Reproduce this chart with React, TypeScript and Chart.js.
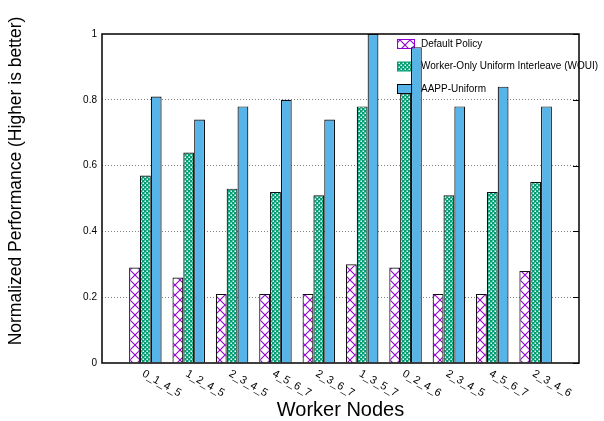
import React, { useEffect, useRef } from 'react';
import { Chart, registerables } from 'chart.js';

Chart.register(...registerables);

const categories = ['0_1_4_5', '1_2_4_5', '2_3_4_5', '4_5_6_7', '2_3_6_7', '1_3_5_7', '0_2_4_6', '2_3_4_5', '4_5_6_7', '2_3_4_6'];
const seriesNames = ['Default Policy', 'Worker-Only Uniform Interleave (WOUI)', 'AAPP-Uniform'];
const defaultPolicy = [0.29, 0.26, 0.21, 0.21, 0.21, 0.30, 0.29, 0.21, 0.21, 0.28];
const woui = [0.57, 0.64, 0.53, 0.52, 0.51, 0.78, 0.82, 0.51, 0.52, 0.55];
const aappUniform = [0.81, 0.74, 0.78, 0.80, 0.74, 1.0, 0.96, 0.78, 0.84, 0.78];
const yTicks = [0, 0.2, 0.4, 0.6, 0.8, 1];
const yTickLabels = ['0', '0.2', '0.4', '0.6', '0.8', '1'];
const xTitle = 'Worker Nodes';
const yTitle = 'Normalized Performance (Higher is better)';

const FONT = "'Liberation Sans', Arial, sans-serif";
const PURPLE = '#9400d3';
const GREEN = '#009e73';
const BLUE = '#56b4e9';

function makeCrossPattern(ctx: CanvasRenderingContext2D) {
  const c = document.createElement('canvas');
  c.width = 10; c.height = 10;
  const g = c.getContext('2d')!;
  g.fillStyle = '#ffffff';
  g.fillRect(0, 0, 10, 10);
  g.strokeStyle = PURPLE;
  g.lineWidth = 1.1;
  g.beginPath();
  g.moveTo(0, 0); g.lineTo(10, 10);
  g.moveTo(10, 0); g.lineTo(0, 10);
  g.stroke();
  return ctx.createPattern(c, 'repeat')!;
}

function makeCheckPattern(ctx: CanvasRenderingContext2D) {
  const c = document.createElement('canvas');
  c.width = 4; c.height = 4;
  const g = c.getContext('2d')!;
  g.fillStyle = GREEN;
  g.fillRect(0, 0, 4, 4);
  g.fillStyle = '#ffffff';
  g.fillRect(0.5, 0.5, 1.5, 1.5);
  g.fillRect(2.5, 2.5, 1.5, 1.5);
  return ctx.createPattern(c, 'repeat')!;
}

export default function App() {
  const ref = useRef<HTMLCanvasElement | null>(null);

  useEffect(() => {
    const canvas = ref.current!;
    const ctx = canvas.getContext('2d')!;
    const crossPat = makeCrossPattern(ctx);
    const checkPat = makeCheckPattern(ctx);
    const fills = [crossPat, checkPat, BLUE];
    const swatchStroke = [PURPLE, GREEN, '#000000'];

    const toPts = (arr: number[]) => arr.map((v, i) => ({ x: i, y: v }));

    const decor = {
      id: 'decor',
      beforeDatasetsDraw(chart: any) {
        const c = chart.ctx;
        c.save();
        const rows = [44, 66.5, 89];
        seriesNames.forEach((name, i) => {
          const y = rows[i];
          c.fillStyle = fills[i];
          c.fillRect(397, y - 4.5, 18, 9);
          c.strokeStyle = swatchStroke[i];
          c.lineWidth = 1;
          c.strokeRect(397.5, y - 4.5, 17, 9);
          c.fillStyle = '#000';
          c.font = `10px ${FONT}`;
          c.textAlign = 'left';
          c.textBaseline = 'middle';
          c.fillText(name, 421, y);
        });
        c.restore();
      },
      afterDraw(chart: any) {
        const c = chart.ctx;
        const a = chart.chartArea;
        const xs = chart.scales.x;
        const ys = chart.scales.y;
        c.save();
        c.strokeStyle = '#000';
        c.lineWidth = 1.5;
        c.strokeRect(a.left, a.top, a.right - a.left, a.bottom - a.top);
        c.lineWidth = 1;
        yTicks.forEach((v) => {
          const py = Math.round(ys.getPixelForValue(v)) + 0.5;
          c.beginPath();
          c.moveTo(a.right - 6, py);
          c.lineTo(a.right, py);
          c.stroke();
        });
        c.fillStyle = '#000';
        c.font = `11px ${FONT}`;
        c.textAlign = 'left';
        c.textBaseline = 'top';
        categories.forEach((lab, i) => {
          const cx = xs.getPixelForValue(i);
          c.save();
          c.translate(cx + 0.5, 368);
          c.rotate((30 * Math.PI) / 180);
          c.fillText(lab, 0, 0);
          c.restore();
        });
        c.font = `20px ${FONT}`;
        c.textAlign = 'center';
        c.textBaseline = 'alphabetic';
        c.fillText(xTitle, (a.left + a.right) / 2, 416);
        c.save();
        c.font = `17.5px ${FONT}`;
        c.translate(16, 181);
        c.rotate(-Math.PI / 2);
        c.textBaseline = 'middle';
        c.fillText(yTitle, 0, 0);
        c.restore();
        c.restore();
      },
    };

    const common = { categoryPercentage: 0.75, barPercentage: 1, borderWidth: 1.2, borderColor: '#111' };

    const chart = new Chart(canvas, {
      type: 'bar',
      data: {
        datasets: [
          { label: seriesNames[0], data: toPts(defaultPolicy), backgroundColor: crossPat as any, ...common },
          { label: seriesNames[1], data: toPts(woui), backgroundColor: checkPat as any, ...common },
          { label: seriesNames[2], data: toPts(aappUniform), backgroundColor: BLUE, ...common },
        ],
      },
      options: {
        animation: false,
        responsive: true,
        maintainAspectRatio: false,
        layout: { padding: { top: 34, right: 25, bottom: 58, left: 0 } },
        plugins: { legend: { display: false }, tooltip: { enabled: false } },
        scales: {
          x: {
            type: 'linear',
            display: false,
            min: -1,
            max: 10,
            offset: false,
          },
          y: {
            type: 'linear',
            min: 0,
            max: 1,
            afterFit: (s: any) => { s.width = 102; },
            afterBuildTicks: (s: any) => { s.ticks = yTicks.map((v) => ({ value: v })); },
            ticks: {
              padding: 5,
              color: '#000',
              font: { family: FONT, size: 10 },
              callback: (_v: any, i: number) => yTickLabels[i],
            },
            grid: {
              drawTicks: false,
              lineWidth: 1,
              color: (ctx: any) => (ctx.tick && (ctx.tick.value === 0 || ctx.tick.value === 1) ? 'rgba(0,0,0,0)' : '#808080'),
            },
            border: { display: false, dash: [1, 2] },
          },
        },
      },
      plugins: [decor],
    } as any);

    return () => chart.destroy();
  }, []);

  return (
    <div style={{ position: 'fixed', left: 0, top: 0, width: 604, height: 421, background: '#fff' }}>
      <canvas ref={ref} />
    </div>
  );
}
